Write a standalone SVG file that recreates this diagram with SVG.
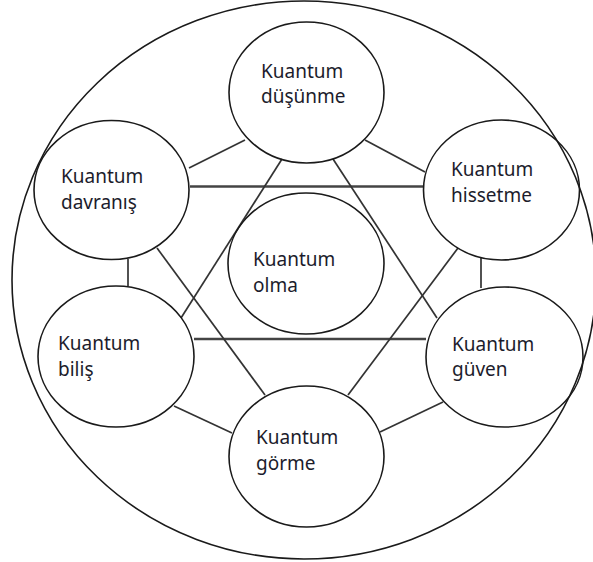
<svg xmlns="http://www.w3.org/2000/svg" width="593" height="562" viewBox="0 0 593 562">
<style>
.node{fill:none;stroke:#1a1a1a;stroke-width:1.6}
.outer{fill:none;stroke:#1a1a1a;stroke-width:1.6}
.edge{stroke:#333;stroke-width:1.7;fill:none}
.hz{stroke:#444;stroke-width:2.4;fill:none}
text{font-family:"Noto Sans","Open Sans","DejaVu Sans",sans-serif;font-size:19px;fill:#1c1c2c}
</style>
<rect width="593" height="562" fill="#fff"/>
<ellipse class="outer" cx="304" cy="280" rx="292" ry="279"/>
<g id="connectors">
<line class="edge" x1="189" y1="168" x2="245" y2="140"/>
<line class="edge" x1="365" y1="140" x2="425" y2="172"/>
<line class="hz" x1="190" y1="186.5" x2="423" y2="186.5"/>
<line class="edge" x1="128" y1="259" x2="128" y2="286"/>
<line class="edge" x1="481" y1="257" x2="481" y2="288"/>
<line class="hz" x1="194" y1="339" x2="426" y2="339"/>
<line class="edge" x1="174" y1="406" x2="232" y2="433"/>
<line class="edge" x1="380" y1="432" x2="443" y2="402"/>
<line class="edge" x1="282" y1="159" x2="181" y2="318"/>
<line class="edge" x1="333" y1="159" x2="437" y2="318"/>
<line class="edge" x1="157" y1="248" x2="265" y2="395"/>
<line class="edge" x1="458" y1="248" x2="348" y2="395"/>
</g>
<g id="dusunme">
<ellipse class="node" cx="306.5" cy="92.5" rx="77.5" ry="70.5"/>
<text x="261" y="78">Kuantum</text>
<text x="261" y="103">düşünme</text>
</g>
<g id="davranis">
<ellipse class="node" cx="111.5" cy="190" rx="77.5" ry="69.5"/>
<text x="61" y="183">Kuantum</text>
<text x="61" y="209">davranış</text>
</g>
<g id="hissetme">
<ellipse class="node" cx="501.5" cy="190" rx="78" ry="70"/>
<text x="451" y="176">Kuantum</text>
<text x="451" y="202">hissetme</text>
</g>
<g id="olma">
<ellipse class="node" cx="306" cy="263.5" rx="78" ry="70.5"/>
<text x="253" y="266">Kuantum</text>
<text x="253" y="292">olma</text>
</g>
<g id="bilis">
<ellipse class="node" cx="116" cy="356.5" rx="78" ry="70.5"/>
<text x="58" y="350">Kuantum</text>
<text x="58" y="376">biliş</text>
</g>
<g id="guven">
<ellipse class="node" cx="504.5" cy="357" rx="78.5" ry="70"/>
<text x="452" y="351">Kuantum</text>
<text x="452" y="376">güven</text>
</g>
<g id="gorme">
<ellipse class="node" cx="306.5" cy="456.5" rx="77.5" ry="70.5"/>
<text x="256" y="444">Kuantum</text>
<text x="256" y="470">görme</text>
</g>
</svg>
